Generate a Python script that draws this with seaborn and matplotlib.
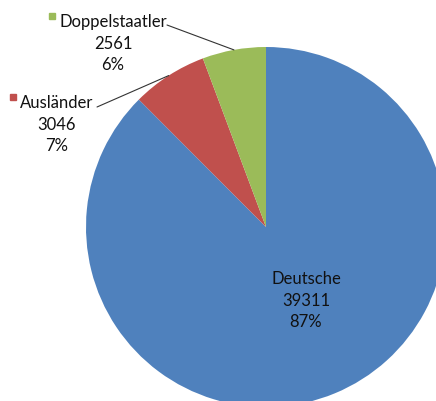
import matplotlib
matplotlib.use("Agg")
import matplotlib.pyplot as plt
import numpy as np
import seaborn as sns

# Data
categories = ["Deutsche", "Ausländer", "Doppelstaatler"]
counts = [39311, 3046, 2561]
percent_labels = ["87%", "7%", "6%"]
colors = ["#4F81BD", "#C0504D", "#9BBB59"]

sns.set_style("white")
plt.rcParams["font.family"] = ["Lato", "DejaVu Sans"]

W, H = 436, 401
CX, CY, R = 266, 227, 180  # pie centre / radius in pixels


def px(x, y):
    """Pixel position (from top-left) to data coords of the pie axes."""
    return (x - CX) / R, (CY - y) / R


fig = plt.figure(figsize=(W / 100, H / 100), dpi=100)
ax = fig.add_axes([0, 0, 1, 1])
wedges, _ = ax.pie(
    counts,
    colors=colors,
    startangle=90,
    counterclock=False,
    radius=1,
    wedgeprops=dict(linewidth=0),
)
ax.set_xlim(-CX / R, (W - CX) / R)
ax.set_ylim(-(H - CY) / R, CY / R)
ax.set_aspect("equal")
ax.axis("off")

fs = 12
line_gap = 21.5


def label_block(i, lx, ly):
    for k, txt in enumerate([categories[i], str(counts[i]), percent_labels[i]]):
        tx, ty = px(lx, ly + k * line_gap)
        ax.text(tx, ty, txt, ha="center", va="center", fontsize=fs, color="#111111")


# Deutsche label inside the slice
label_block(0, 306, 279)

# outside labels: (centre x, first line y, marker x, leader start x, leader start y)
outside = {
    1: (57, 103, 13, 97, 107),
    2: (113, 22, 52, 167, 25),
}
for i, (lx, ly, mx, sx, sy) in outside.items():
    label_block(i, lx, ly)
    mxd, myd = px(mx, ly - 6)
    ax.plot(mxd, myd, marker="s", markersize=4, color=colors[i], linestyle="none")
    # leader line to the middle of the wedge edge
    w = wedges[i]
    mid = np.deg2rad((w.theta1 + w.theta2) / 2)
    sxd, syd = px(sx, sy)
    ax.plot([sxd, np.cos(mid)], [syd, np.sin(mid)], color="#333333", linewidth=0.8)

fig.savefig("out.png", dpi=100)
